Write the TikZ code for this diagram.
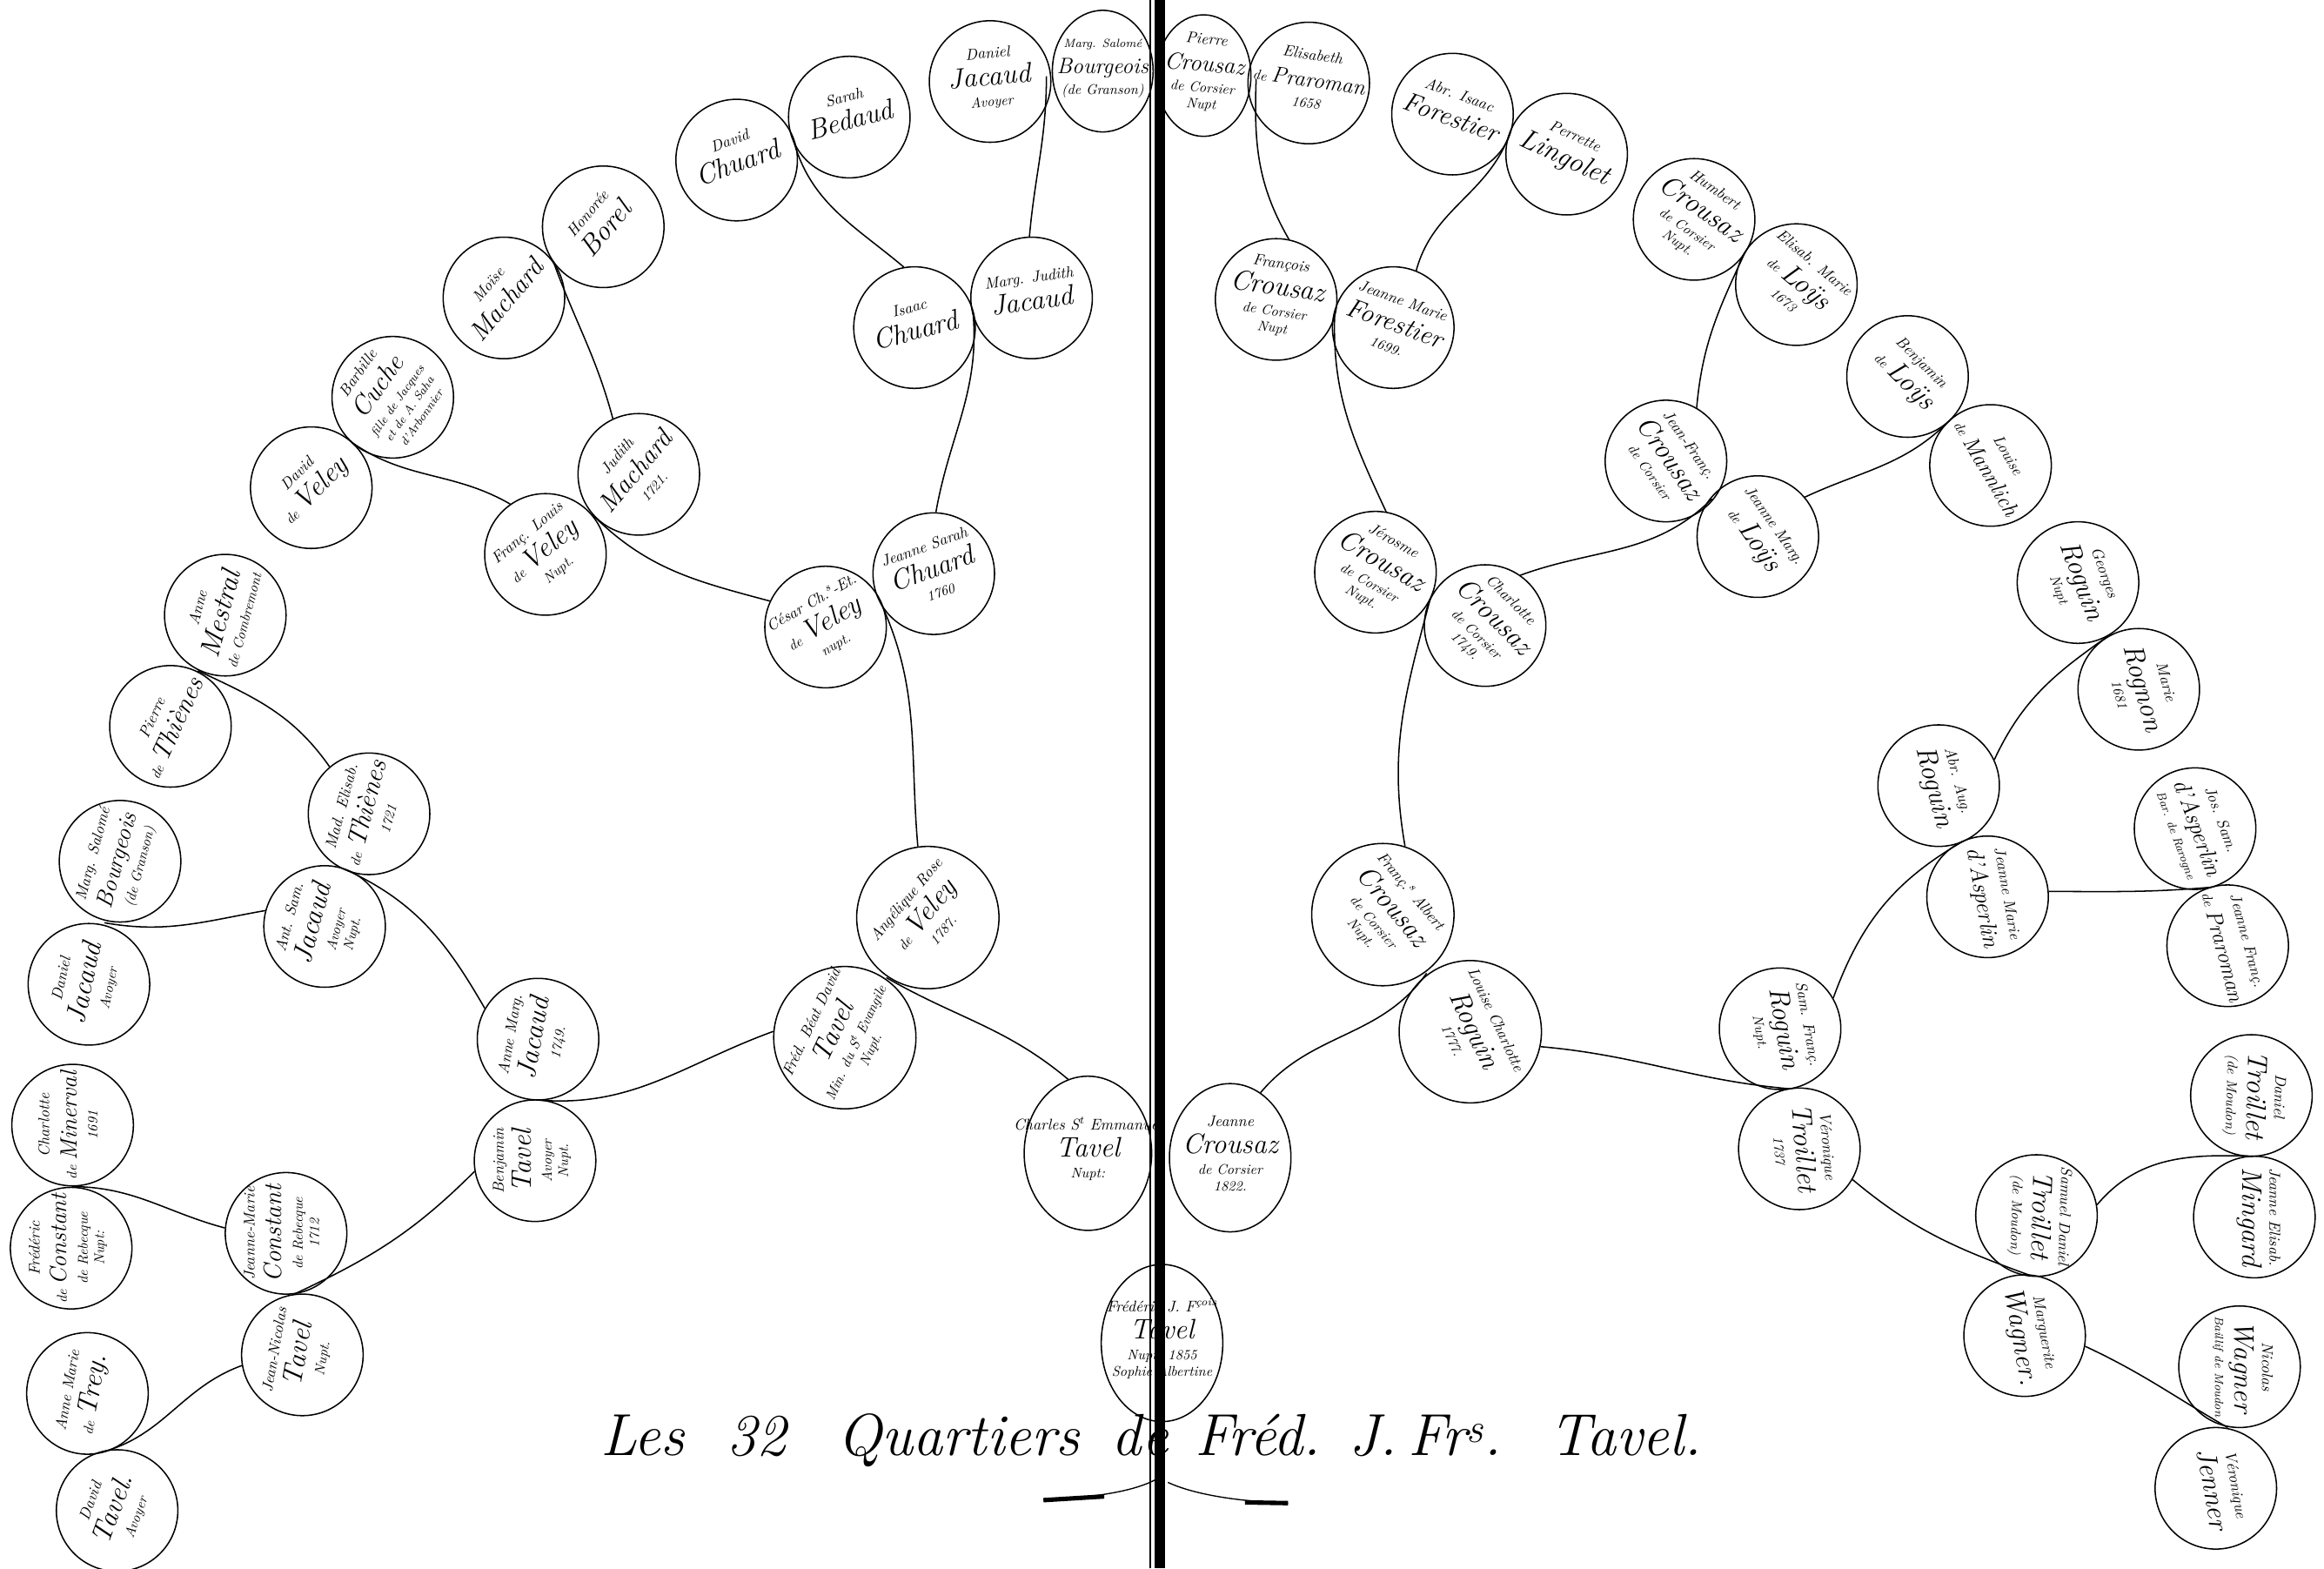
\documentclass[tikz,border=0pt]{standalone}
\usepackage{graphicx}
\usepackage{tikz}
\usetikzlibrary{calc, shapes.geometric}
\tikzset{person/.style={circle, draw, line width=0.9pt, minimum size=82pt, inner sep=0pt, font=\itshape\fontsize{9}{10}\selectfont}}
\tikzset{bigperson/.style={person, minimum size=96pt}}
\tikzset{link/.style={line width=0.9pt}}
\tikzset{titleword/.style={anchor=base west, inner sep=0pt, font=\itshape\fontsize{40}{44}\selectfont}}
\newcommand{\prenom}[1]{{\fontsize{10.5}{12.5}\selectfont\strut #1}}
\newcommand{\nom}[2][19]{{\fontsize{#1}{21}\selectfont\strut #2}}
\newcommand{\petit}[1]{{\fontsize{9.5}{11}\selectfont\strut #1}}
\newcommand{\menu}[1]{{\fontsize{8}{9.5}\selectfont\strut #1}}
\newcommand{\inscr}[2]{\rotatebox{#1}{\makebox[0pt]{\smash{\begin{tabular}{@{}c@{}}#2\end{tabular}}}}}
\newcommand{\descent}[6]{\draw[link] ($(#1)!.5!(#2)$) to[out=#4,in=#5] (#3.#6);}

\begin{document}
\begin{tikzpicture}[x=1pt, y=1pt]
\fill[white] (0,0) rectangle (1568,1058);
\useasboundingbox (0,0) rectangle (1568,1058);

% left half
\node[person] (davtav) at (79,39) {\inscr{70}{\prenom{David}\\\nom{Tavel.}\\\petit{Avoyer}}};
\node[person] (trey) at (59,118) {\inscr{80}{\prenom{Anne Marie}\\\petit{de} \nom{Trey.}}};
\node[person] (jntav) at (204,144) {\inscr{80}{\prenom{Jean-Nicolas}\\\nom{Tavel}\\\petit{Nupt.}}};
\node[person] (fconst) at (48,216) {\inscr{90}{\prenom{Frédéric}\\\petit{de} \nom[16]{Constant}\\\petit{de Rebecque}\\\petit{Nupt:}}};
\node[person] (miner) at (49,299) {\inscr{90}{\prenom{Charlotte}\\\petit{de} \nom[16]{Minerval}\\\petit{1691}}};
\node[person] (jmconst) at (193,226) {\inscr{90}{\prenom{Jeanne-Marie}\\\nom[17]{Constant}\\\petit{de Rebecque}\\\petit{1712}}};
\node[person] (benj) at (361,275) {\inscr{90}{\prenom{Benjamin}\\\nom{Tavel}\\\petit{Avoyer}\\\petit{Nupt.}}};
\node[person] (danjacL) at (60,394) {\inscr{78}{\prenom{Daniel}\\\nom{Jacaud}\\\petit{Avoyer}}};
\node[person] (margL) at (81,477) {\inscr{75}{\prenom{Marg. Salomé}\\\nom[16]{Bourgeois}\\\petit{(de Granson)}}};
\node[person] (antsam) at (219,433) {\inscr{75}{\prenom{Ant. Sam.}\\\nom{Jacaud}\\\petit{Avoyer}\\\petit{Nupt.}}};
\node[person] (annemarg) at (363,357) {\inscr{80}{\prenom{Anne Marg.}\\\nom{Jacaud}\\\petit{1749.}}};
\node[person] (thienes) at (115,568) {\inscr{65}{\prenom{Pierre}\\\petit{de} \nom[18]{Thiènes}}};
\node[person] (mestral) at (152,643) {\inscr{75}{\prenom{Anne}\\\nom{Mestral}\\\petit{de Combremont}}};
\node[person] (madel) at (249,509) {\inscr{75}{\prenom{Mad. Elisab.}\\\petit{de} \nom[18]{Thiènes}\\\petit{1721}}};
\node[bigperson] (fbeat) at (570,358) {\inscr{65}{\prenom{Fréd. Béat David}\\\nom{Tavel}\\\petit{Min. du S\textsuperscript{t} Evangile}\\\petit{Nupt.}}};
\node[bigperson] (angel) at (626,439) {\inscr{50}{\prenom{Angélique Rose}\\\petit{de} \nom{Veley}\\\petit{1787.}}};
\node[person, ellipse, minimum width=86pt, minimum height=104pt] (charles) at (734,280) {\inscr{0}{\prenom{Charles S\textsuperscript{t} Emmanuel}\\\nom{Tavel}\\\petit{Nupt:}}};
\node[person] (davvel) at (210,729) {\inscr{45}{\prenom{David}\\\petit{de} \nom{Veley}}};
\node[person] (cuche) at (265,790) {\inscr{55}{\prenom{Barbille}\\\nom[18]{Cuche}\\\menu{fille de Jacques}\\\menu{et de A. Saha}\\\menu{d'Arbonnier}}};
\node[person] (fl) at (368,684) {\inscr{40}{\prenom{Franç. Louis}\\\petit{de} \nom{Veley}\\\petit{Nupt.}}};
\node[person] (moise) at (340,857) {\inscr{50}{\prenom{Moïse}\\\nom[18]{Machard}}};
\node[person] (borel) at (407,905) {\inscr{50}{\prenom{Honorée}\\\nom{Borel}}};
\node[person] (judith) at (431,738) {\inscr{50}{\prenom{Judith}\\\nom[18]{Machard}\\\petit{1721.}}};
\node[person] (cesar) at (557,635) {\inscr{30}{\prenom{César Ch.\textsuperscript{s}-Et.}\\\petit{de} \nom{Veley}\\\petit{nupt.}}};
\node[person] (jsarah) at (630,671) {\inscr{20}{\prenom{Jeanne Sarah}\\\nom{Chuard}\\\petit{1760}}};
\node[person] (davchu) at (497,950) {\inscr{20}{\prenom{David}\\\nom{Chuard}}};
\node[person] (bedaud) at (573,979) {\inscr{15}{\prenom{Sarah}\\\nom{Bedaud}}};
\node[person] (isaac) at (617,837) {\inscr{15}{\prenom{Isaac}\\\nom{Chuard}}};
\node[person] (margjud) at (696,857) {\inscr{8}{\prenom{Marg. Judith}\\\nom{Jacaud}}};
\node[person] (danjacT) at (668,1003) {\inscr{5}{\prenom{Daniel}\\\nom{Jacaud}\\\petit{Avoyer}}};
\node[person, ellipse, minimum width=68pt, minimum height=82pt] (margT) at (744,1010) {\inscr{0}{\menu{Marg. Salomé}\\\nom[15]{Bourgeois}\\\petit{(de Granson)}}};

% centre
\node[person, ellipse, minimum width=82pt, minimum height=106pt] (subject) at (784,152) {\inscr{0}{\prenom{Frédéric J. F\textsuperscript{çois}}\\\nom{Tavel}\\\petit{Nupt. 1855}\\\petit{Sophie Albertine}}};

% right half
\node[person, ellipse, minimum width=82pt, minimum height=100pt] (jcrou) at (830,277) {\inscr{0}{\prenom{Jeanne}\\\nom{Crousaz}\\\petit{de Corsier}\\\petit{1822.}}};
\node[bigperson] (lcrog) at (992,362) {\inscr{-65}{\prenom{Louise Charlotte}\\\nom{Roguin}\\\petit{1777.}}};
\node[bigperson] (fabert) at (933,441) {\inscr{-50}{\prenom{Franç.\textsuperscript{s} Albert}\\\nom{Crousaz}\\\petit{de Corsier}\\\petit{Nupt.}}};
\node[person, ellipse, minimum width=64pt, minimum height=82pt] (pcrou) at (812,1007) {\inscr{-5}{\prenom{Pierre}\\\nom[16]{Crousaz}\\\petit{de Corsier}\\\petit{Nupt}}};
\node[person] (elpra) at (883,1002) {\inscr{-8}{\prenom{Elisabeth}\\\petit{de} \nom[15]{Praroman}\\\petit{1658}}};
\node[person] (fcrou) at (861,856) {\inscr{-8}{\prenom{François}\\\nom{Crousaz}\\\petit{de Corsier}\\\petit{Nupt}}};
\node[person] (jmfor) at (940,837) {\inscr{-20}{\prenom{Jeanne Marie}\\\nom[18]{Forestier}\\\petit{1699.}}};
\node[person] (abrfor) at (980,981) {\inscr{-20}{\prenom{Abr. Isaac}\\\nom[18]{Forestier}}};
\node[person] (lingo) at (1057,954) {\inscr{-25}{\prenom{Perrette}\\\nom{Lingolet}}};
\node[person] (humb) at (1143,910) {\inscr{-35}{\prenom{Humbert}\\\nom{Crousaz}\\\petit{de Corsier}\\\petit{Nupt.}}};
\node[person] (elloys) at (1212,866) {\inscr{-40}{\prenom{Elisab. Marie}\\\petit{de} \nom{Loÿs}\\\petit{1673}}};
\node[person] (jfcrou) at (1124,747) {\inscr{-55}{\prenom{Jean-Franç.}\\\nom{Crousaz}\\\petit{de Corsier}}};
\node[person] (jmloys) at (1186,696) {\inscr{-55}{\prenom{Jeanne Marg.}\\\petit{de} \nom{Loÿs}}};
\node[person] (benloys) at (1287,804) {\inscr{-45}{\prenom{Benjamin}\\\petit{de} \nom{Loÿs}}};
\node[person] (mannl) at (1343,744) {\inscr{-60}{\prenom{Louise}\\\petit{de} \nom[15]{Mannlich}}};
\node[person] (jerosme) at (928,672) {\inscr{-30}{\prenom{Jérosme}\\\nom{Crousaz}\\\petit{de Corsier}\\\petit{Nupt.}}};
\node[person] (charl) at (1002,636) {\inscr{-45}{\prenom{Charlotte}\\\nom{Crousaz}\\\petit{de Corsier}\\\petit{1749.}}};
\node[person] (georg) at (1402,665) {\inscr{-70}{\prenom{Georges}\\\nom{Roguin}\\\petit{Nupt}}};
\node[person] (rognon) at (1443,593) {\inscr{-75}{\prenom{Marie}\\\nom{Rognon}\\\petit{1681}}};
\node[person] (abraug) at (1308,528) {\inscr{-75}{\prenom{Abr. Aug.}\\\nom{Roguin}}};
\node[person] (jmasp) at (1341,453) {\inscr{-80}{\prenom{Jeanne Marie}\\\nom[16]{d'Asperlin}}};
\node[person] (josasp) at (1481,499) {\inscr{-70}{\prenom{Jos. Sam.}\\\nom[16]{d'Asperlin}\\\menu{Bar. de Rarogne}}};
\node[person] (jfprar) at (1503,420) {\inscr{-75}{\prenom{Jeanne Franç.}\\\petit{de} \nom[15]{Praroman}}};
\node[person] (samfr) at (1201,364) {\inscr{-80}{\prenom{Sam. Franç.}\\\nom{Roguin}\\\petit{Nupt.}}};
\node[person] (vtroil) at (1214,283) {\inscr{-85}{\prenom{Véronique}\\\nom{Troillet}\\\petit{1737}}};
\node[person] (dtroil) at (1519,319) {\inscr{-92}{\prenom{Daniel}\\\nom{Troillet}\\\petit{(de Moudon)}}};
\node[person] (mingard) at (1521,237) {\inscr{-90}{\prenom{Jeanne Elisab.}\\\nom{Mingard}}};
\node[person] (sdtroil) at (1374,238) {\inscr{-92}{\prenom{Samuel Daniel}\\\nom{Troillet}\\\petit{(de Moudon)}}};
\node[person] (wagner) at (1366,157) {\inscr{-80}{\prenom{Marguerite}\\\nom{Wagner.}}};
\node[person] (nwagn) at (1511,136) {\inscr{-90}{\prenom{Nicolas}\\\nom{Wagner}\\\menu{Baillif de Moudon}}};
\node[person] (jenner) at (1495,54) {\inscr{-80}{\prenom{Véronique}\\\nom{Jenner}}};

\descent{davtav}{trey}{jntav}{15}{200}{190}
\descent{fconst}{miner}{jmconst}{0}{165}{175}
\descent{jntav}{jmconst}{benj}{25}{225}{190}
\descent{danjacL}{margL}{antsam}{-10}{190}{165}
\descent{thienes}{mestral}{madel}{-25}{125}{130}
\descent{antsam}{madel}{annemarg}{-25}{120}{150}
\descent{benj}{annemarg}{fbeat}{-5}{200}{175}
\descent{davvel}{cuche}{fl}{-35}{150}{125}
\descent{moise}{borel}{judith}{-70}{105}{115}
\descent{fl}{judith}{cesar}{-45}{165}{155}
\descent{davchu}{bedaud}{isaac}{-75}{140}{100}
\descent{danjacT}{margT}{margjud}{-90}{85}{92}
\descent{isaac}{margjud}{jsarah}{-85}{80}{88}
\descent{cesar}{jsarah}{angel}{-65}{95}{98}
\descent{fbeat}{angel}{charles}{-30}{140}{105}

\descent{pcrou}{elpra}{fcrou}{-92}{120}{78}
\descent{abrfor}{lingo}{jmfor}{-110}{75}{68}
\descent{fcrou}{jmfor}{jerosme}{-92}{115}{80}
\descent{humb}{elloys}{jfcrou}{-115}{85}{60}
\descent{benloys}{mannl}{jmloys}{-135}{25}{40}
\descent{jfcrou}{jmloys}{charl}{-135}{20}{55}
\descent{jerosme}{charl}{fabert}{-105}{100}{72}
\descent{fabert}{lcrog}{jcrou}{-125}{50}{65}
\descent{georg}{rognon}{abraug}{-145}{65}{25}
\descent{josasp}{jfprar}{jmasp}{185}{0}{5}
\descent{abraug}{jmasp}{samfr}{-150}{70}{30}
\descent{dtroil}{mingard}{sdtroil}{178}{50}{10}
\descent{nwagn}{jenner}{wagner}{150}{-25}{-10}
\descent{sdtroil}{wagner}{vtroil}{160}{-40}{-30}
\descent{samfr}{vtroil}{lcrog}{175}{-5}{-12}

% title
\node[titleword] (ttl1) at (405,76) {Les};
\node[titleword] (ttl2) at (490,76) {32};
\node[titleword] (ttl3) at (565,76) {Quartiers};
\node[titleword] (ttl4) at (750,76) {de};
\node[titleword] (ttl5) at (806,76) {Fréd.};
\node[titleword] (ttl6) at (910,76) {J.};
\node[titleword] (ttl7) at (950,76) {Fr\textsuperscript{s}.};
\node[titleword] (ttl8) at (1045,76) {Tavel.};
\draw[line width=0.8pt] (704,46) .. controls (740,48) and (765,52) .. (780,60);
\draw[line width=3pt] (704,46) -- (745,48.5);
\draw[line width=0.8pt] (788,58) .. controls (805,50) and (835,45) .. (869,44);
\draw[line width=3pt] (840,44.5) -- (869,44);

% binding
\draw[line width=0.8pt] (776,0) -- (776,1058);
\fill[black] (779,0) rectangle (786,1058);
\end{tikzpicture}
\end{document}
